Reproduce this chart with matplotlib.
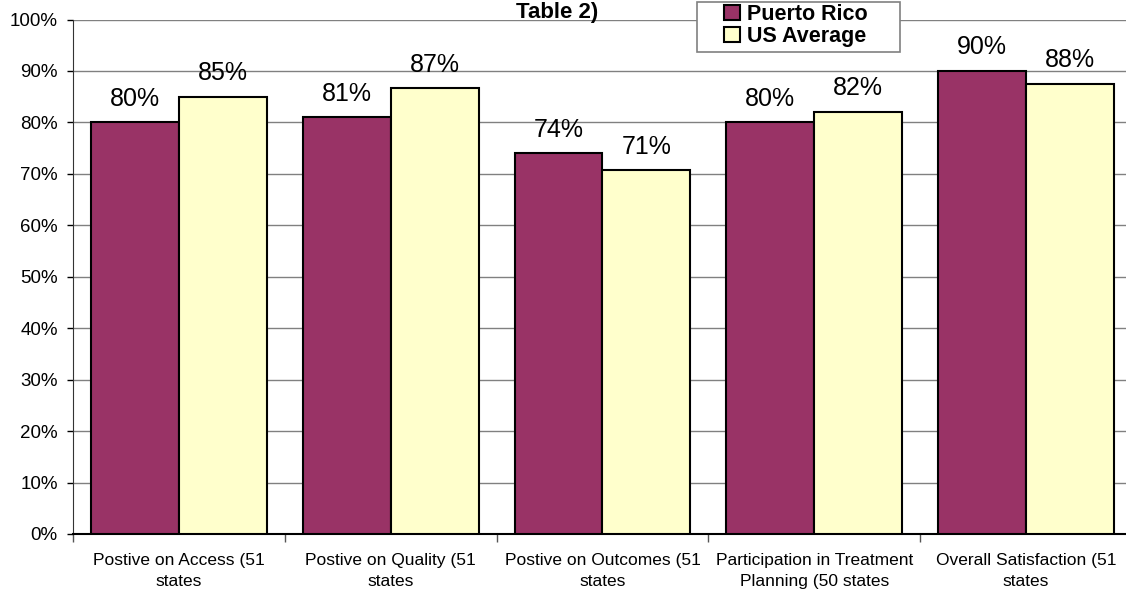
import matplotlib
matplotlib.use("Agg")
import matplotlib.pyplot as plt
from matplotlib.patches import Rectangle
import numpy as np

plt.rcParams['font.family'] = ['Liberation Sans', 'DejaVu Sans']

categories = ["Postive on Access (51\nstates", "Postive on Quality (51\nstates",
              "Postive on Outcomes (51\nstates", "Participation in Treatment\nPlanning (50 states",
              "Overall Satisfaction (51\nstates"]
puerto_rico = [80, 81, 74, 80, 90]
us_average = [85, 86.6, 70.7, 82, 87.5]
pr_labels = ["80%", "81%", "74%", "80%", "90%"]
us_labels = ["85%", "87%", "71%", "82%", "88%"]
yticks = [0, 10, 20, 30, 40, 50, 60, 70, 80, 90, 100]

W, H = 1126, 595
fig = plt.figure(figsize=(W/100, H/100), dpi=100)
ax = fig.add_axes([73/W, (H-534)/H, 1059/W, (534-19.5)/H])

x = np.arange(len(categories))
bw = 0.415
b1 = ax.bar(x - bw/2, puerto_rico, bw, color='#993366', edgecolor='black', linewidth=1.5,
            label='Puerto Rico', zorder=3)
b2 = ax.bar(x + bw/2, us_average, bw, color='#FFFFCC', edgecolor='black', linewidth=1.5,
            label='US Average', zorder=3)

for bars, labs in ((b1, pr_labels), (b2, us_labels)):
    for rect, lab in zip(bars, labs):
        ax.annotate(lab, (rect.get_x() + rect.get_width()/2, rect.get_height()),
                    xytext=(0, 12), textcoords='offset points', ha='center', va='baseline',
                    fontsize=18)

ax.set_ylim(0, 100)
ax.set_xlim(-0.5, len(categories) - 0.5)
ax.set_yticks(yticks)
ax.set_yticklabels([f"{v}%" for v in yticks], fontsize=13.5)
ax.yaxis.grid(True, color='#808080', linewidth=1, zorder=0)
ax.set_axisbelow(True)

ax.set_xticks(np.arange(len(categories) + 1) - 0.5)
ax.set_xticklabels([])
ax.set_xticks(x, minor=True)
ax.set_xticklabels(categories, minor=True, fontsize=12.5, linespacing=1.5)
for t in ax.get_xticklabels(minor=True):
    t.set_multialignment('center')
ax.tick_params(axis='x', which='minor', length=0, pad=14)
ax.tick_params(axis='x', which='major', length=6, width=1, color='#555555')
ax.tick_params(axis='y', length=4, width=1, color='black', pad=7)

for s in ['top', 'right']:
    ax.spines[s].set_visible(False)
ax.spines['left'].set_color('#333333')
ax.spines['bottom'].set_color('black')
ax.spines['bottom'].set_linewidth(1.5)

fig.text(557/W, 1 - 18/H, "Table 2)", ha='center', va='baseline', fontsize=16, fontweight='bold')

# legend frame
fig.patches.append(Rectangle((697/W, 1 - 52/H), 203/W, 50/H, transform=fig.transFigure,
                             facecolor='white', edgecolor='#808080', linewidth=1.2, zorder=5))
leg = fig.legend(handles=[b1, b2], loc='upper left', bbox_to_anchor=(724/W, 1 - 4/H),
                 prop={'weight': 'bold', 'size': 15.5}, frameon=False,
                 handlelength=0.75, handleheight=0.75, handletextpad=0.3,
                 borderpad=0.0, labelspacing=0.05, borderaxespad=0)
leg.set_zorder(6)

fig.savefig("out.png", dpi=100)
